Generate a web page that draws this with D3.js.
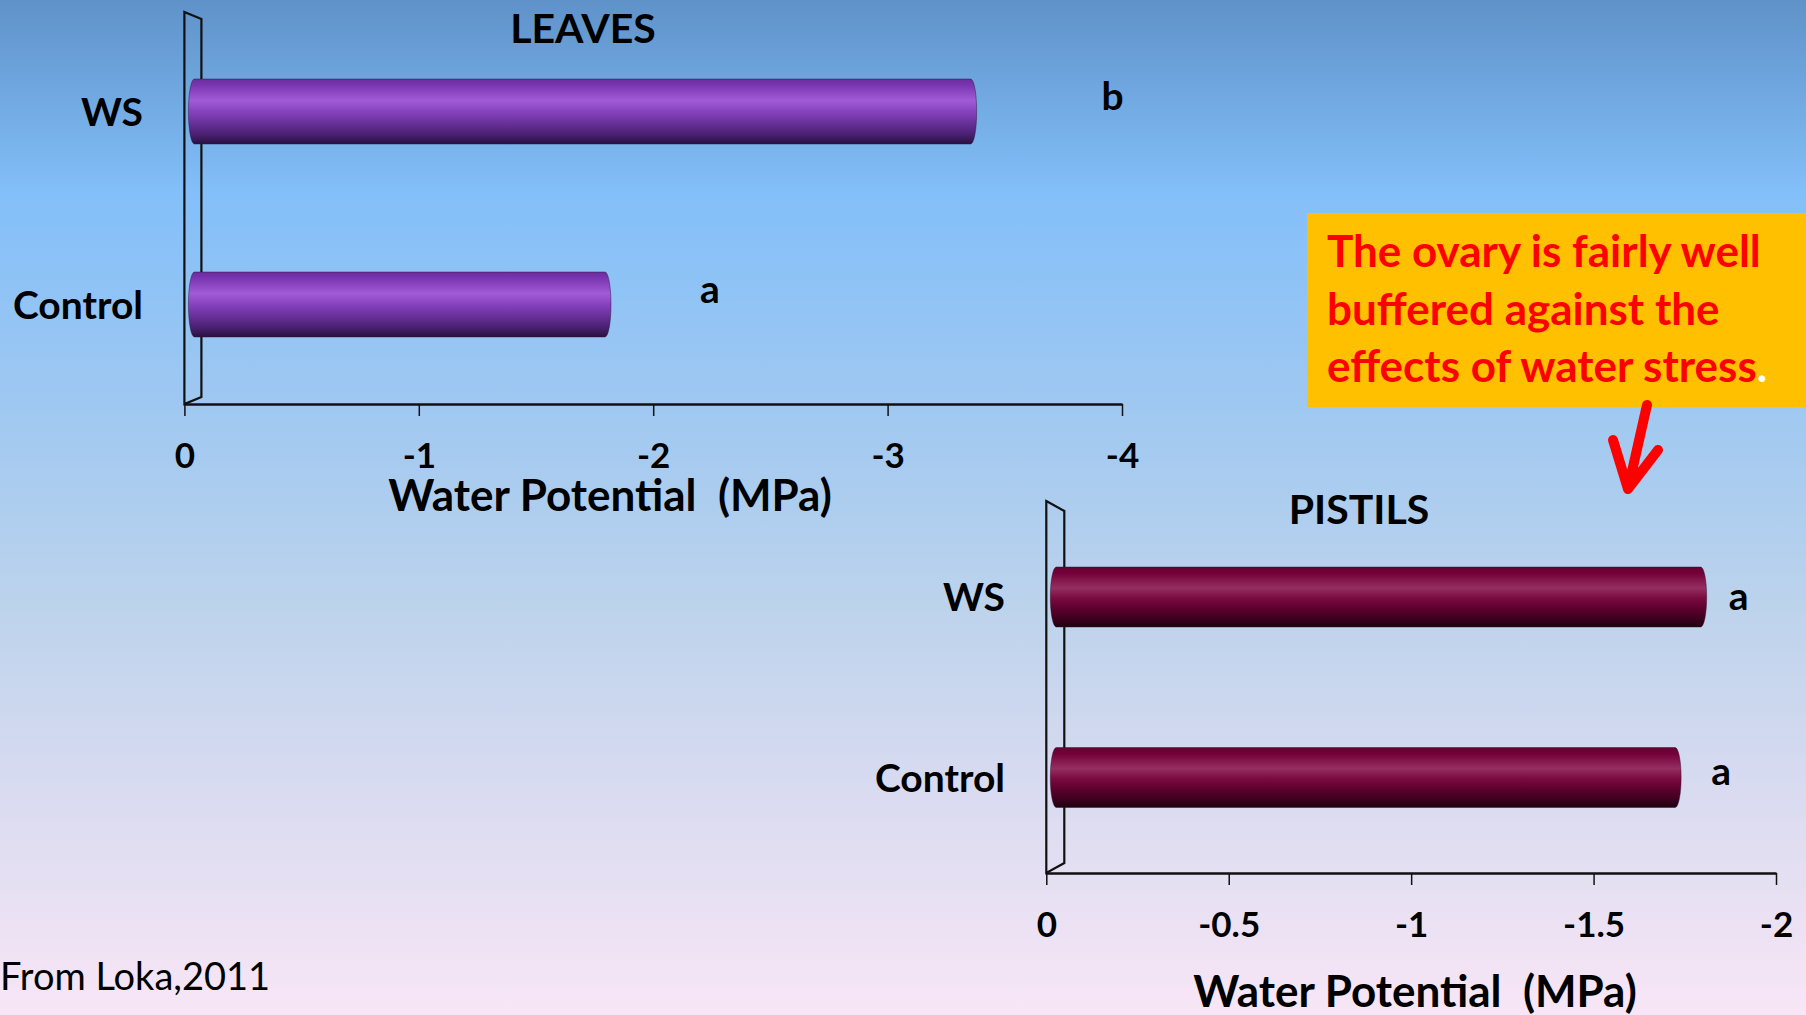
<!DOCTYPE html>
<html>
<head>
<meta charset="utf-8">
<script src="https://cdn.jsdelivr.net/npm/d3@7/dist/d3.min.js"></script>
<style>
  html, body { margin: 0; padding: 0; overflow: hidden; }
  svg { display: block; font-family: "Lato", "Open Sans", sans-serif; }
  text { white-space: pre; }
</style>
</head>
<body>
<svg id="slide" width="1806" height="1015"></svg>
<script>
// Leaf and pistil water potential, control vs water-stressed plants
const leafCategories = ["WS", "Control"];
const leafValues = [-3.38, -1.82];
const leafLetters = ["b", "a"];
const leafTicks = [0, -1, -2, -3, -4];

const pistilCategories = ["WS", "Control"];
const pistilValues = [-1.81, -1.74];
const pistilLetters = ["a", "a"];
const pistilTicks = [0, -0.5, -1, -1.5, -2];

const noteLines = ["The ovary is fairly well", "buffered against the", "effects of water stress"];
const sourceText = "From Loka,2011";
const axisTitle = "Water Potential  (MPa)";

const svg = d3.select("#slide");
const W = 1806, H = 1015;
const defs = svg.append("defs");

// slide background
const bg = defs.append("linearGradient").attr("id", "bgGrad")
  .attr("x1", 0).attr("y1", 0).attr("x2", 0).attr("y2", 1);
[[0, "#5f92c9"], [0.19, "#83bff9"], [0.4, "#9fc8f1"], [0.6, "#bdd3ec"], [0.8, "#dcdcf1"], [1, "#f8e6f6"]]
  .forEach(([o, c]) => bg.append("stop").attr("offset", o).attr("stop-color", c));
svg.append("rect").attr("width", W).attr("height", H).attr("fill", "url(#bgGrad)");

// cylinder shading for the bars
function cylinder(id, stops) {
  const g = defs.append("linearGradient").attr("id", id)
    .attr("x1", 0).attr("y1", 0).attr("x2", 0).attr("y2", 1);
  stops.forEach(([o, c]) => g.append("stop").attr("offset", o).attr("stop-color", c));
}
cylinder("leafBar", [[0, "#6a2e9c"], [0.1, "#7b36b2"], [0.33, "#a25bd7"], [0.5, "#8642be"],
  [0.68, "#68309a"], [0.86, "#482070"], [1, "#2a1040"]]);
cylinder("pistilBar", [[0, "#66002f"], [0.1, "#730038"], [0.35, "#952f61"], [0.52, "#7a0a40"],
  [0.7, "#5c002d"], [0.88, "#3a001c"], [1, "#1e000e"]]);

function drawChart(cfg) {
  const x = d3.scaleLinear().domain(cfg.domain).range(cfg.xRange);
  const y = d3.scalePoint().domain(cfg.categories).range(cfg.yRange).padding(0.5);
  const g = svg.append("g");
  const x0 = x(0);

  // 3-D back wall
  g.append("path")
    .attr("d", `M${x0},${cfg.wallTop} L${x0 + cfg.depth},${cfg.wallTop + cfg.dy} ` +
      `L${x0 + cfg.depth},${cfg.baseY - cfg.dy} L${x0},${cfg.baseY} Z`)
    .attr("fill", "none").attr("stroke", "#111").attr("stroke-width", 2.2);

  // bars
  const rows = cfg.categories.map((c, i) => ({ c, v: cfg.values[i], letter: cfg.letters[i], i }));
  g.selectAll("rect.bar").data(rows).enter().append("rect")
    .attr("class", "bar")
    .attr("x", x0 + 4)
    .attr("y", d => y(d.c) - cfg.barH / 2)
    .attr("width", d => x(d.v) - x0 - 4)
    .attr("height", cfg.barH)
    .attr("rx", 6).attr("ry", cfg.barH / 2)
    .attr("fill", `url(#${cfg.grad})`)
    .attr("stroke", "rgba(40,20,50,0.45)").attr("stroke-width", 1);

  // significance letters
  g.selectAll("text.letter").data(rows).enter().append("text")
    .attr("x", d => x(d.v) + cfg.letterDx[d.i])
    .attr("y", d => y(d.c) + cfg.letterDy[d.i])
    .attr("text-anchor", "middle")
    .attr("font-size", 39).attr("font-weight", 700).attr("fill", "#000")
    .text(d => d.letter);

  // category labels
  g.selectAll("text.cat").data(rows).enter().append("text")
    .attr("x", cfg.catRight)
    .attr("y", d => y(d.c))
    .attr("dy", "0.36em")
    .attr("text-anchor", "end")
    .attr("font-size", 39).attr("font-weight", 700).attr("fill", "#000")
    .text(d => d.c);

  // value axis
  const ax = g.append("g").attr("transform", `translate(0,${cfg.baseY})`)
    .call(d3.axisBottom(x).tickValues(cfg.ticks).tickSize(12).tickSizeOuter(0)
      .tickPadding(27).tickFormat(d => String(d)));
  ax.select(".domain").attr("stroke", "#111").attr("stroke-width", 2.6);
  ax.selectAll(".tick line").attr("stroke", "#111").attr("stroke-width", 1.5);
  ax.selectAll(".tick text").attr("fill", "#000").attr("font-size", 35)
    .attr("font-weight", 700).attr("font-family", "Lato, 'Open Sans', sans-serif");

  // titles
  g.append("text").attr("x", cfg.title[0]).attr("y", cfg.title[1])
    .attr("text-anchor", "middle").attr("font-size", 41).attr("font-weight", 700)
    .text(cfg.titleText);
  g.append("text").attr("x", cfg.xTitle[0]).attr("y", cfg.xTitle[1])
    .attr("text-anchor", "middle").attr("font-size", 44).attr("font-weight", 700)
    .text(axisTitle);
}

drawChart({
  categories: leafCategories, values: leafValues, letters: leafLetters, ticks: leafTicks,
  domain: [0, -4], xRange: [184.4, 1122], yRange: [15, 401],
  baseY: 404, wallTop: 12, depth: 17, dy: 7, barH: 65, grad: "leafBar",
  letterDx: [136, 99], letterDy: [-2, -2], catRight: 143,
  titleText: "LEAVES", title: [583, 43], xTitle: [610, 511]
});

drawChart({
  categories: pistilCategories, values: pistilValues, letters: pistilLetters, ticks: pistilTicks,
  domain: [0, -2], xRange: [1046.3, 1776], yRange: [506.75, 867.75],
  baseY: 873, wallTop: 501, depth: 18, dy: 10, barH: 60, grad: "pistilBar",
  letterDx: [32, 40], letterDy: [13, 7], catRight: 1005,
  titleText: "PISTILS", title: [1359, 524], xTitle: [1415, 1007]
});

// callout box
svg.append("rect").attr("x", 1307).attr("y", 213).attr("width", W - 1307).attr("height", 194)
  .attr("fill", "#ffc000");
const note = svg.append("text").attr("font-size", 44).attr("font-weight", 700).attr("fill", "#ff0000");
noteLines.forEach((line, i) => {
  note.append("tspan").attr("x", 1327).attr("y", 267 + i * 57.5).text(line);
  if (i === noteLines.length - 1) note.append("tspan").attr("fill", "#ffffff").text(".");
});

// arrow from the callout down to the pistil chart
svg.append("path")
  .attr("d", "M1647,405 L1628,489 M1613,440 L1628,489 L1658,450")
  .attr("fill", "none").attr("stroke", "#ff0000").attr("stroke-width", 10)
  .attr("stroke-linecap", "round").attr("stroke-linejoin", "round");

// source
svg.append("text").attr("x", 0).attr("y", 990).attr("font-size", 38).attr("fill", "#000")
  .text(sourceText);
</script>
</body>
</html>
